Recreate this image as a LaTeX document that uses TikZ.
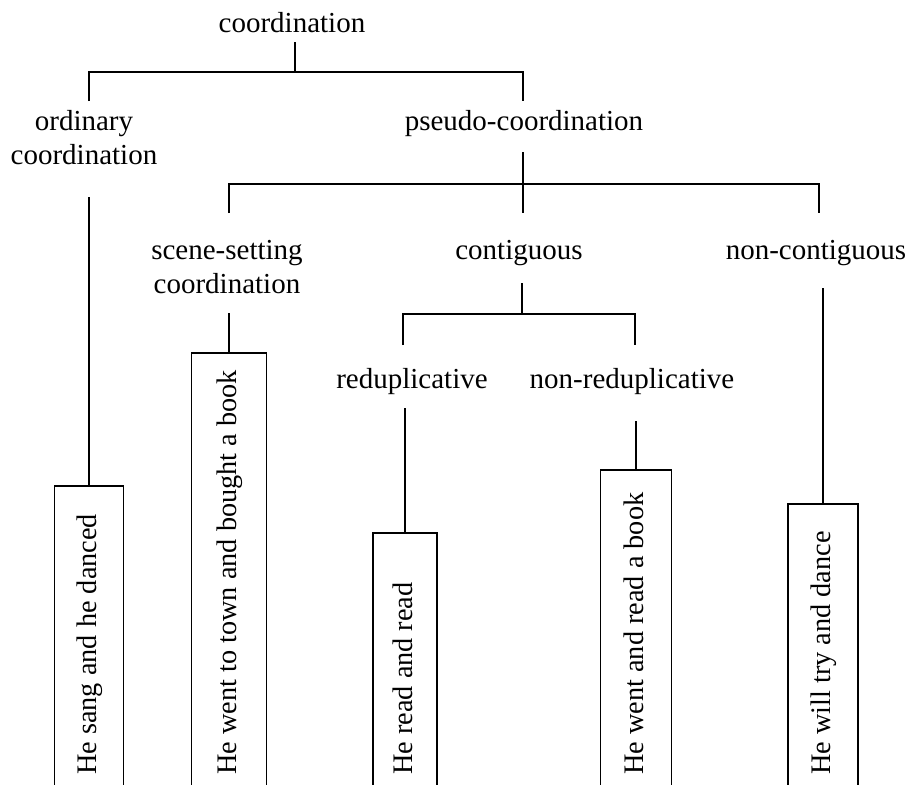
\documentclass[tikz,border=0pt]{standalone}
\usepackage{fontspec}
\setmainfont{Liberation Serif}
\begin{document}
\begin{tikzpicture}[x=1pt,y=-1pt,
  lab/.style={font=\fontsize{29}{34}\selectfont, inner sep=0pt, anchor=base, align=center},
  vtext/.style={font=\fontsize{28.3}{34}\selectfont, inner sep=0pt, rotate=90, anchor=base west},
  conn/.style={line width=1.8pt},
  sbox/.style={draw, line width=1.8pt, inner sep=0pt, anchor=north, minimum height=600pt}]
\useasboundingbox (0,0) rectangle (911,785);
% labels (multi-line labels: base = last line)
\node[lab] (root) at (292,32) {coordination};
\node[lab] (ord) at (84,164) {ordinary\\coordination};
\node[lab] (pseudo) at (524,130) {pseudo-coordination};
\node[lab] (scene) at (227,293) {scene-setting\\coordination};
\node[lab] (contig) at (519,259) {contiguous};
\node[lab] (noncontig) at (816,259) {non-contiguous};
\node[lab] (redup) at (412,388) {reduplicative};
\node[lab] (nonredup) at (632,388) {non-reduplicative};
% boxes
\node[sbox, minimum width=69pt] (b1) at (89,485) {};
\node[sbox, minimum width=75pt] (b2) at (229,352) {};
\node[sbox, minimum width=64pt] (b3) at (405,532) {};
\node[sbox, minimum width=71pt] (b4) at (636,469) {};
\node[sbox, minimum width=70pt] (b5) at (823,503) {};
\node[vtext] (t1) at (96,775) {He sang and he danced};
\node[vtext] (t2) at (236,775) {He went to town and bought a book};
\node[vtext] (t3) at (412,775) {He read and read};
\node[vtext] (t4) at (643,775) {He went and read a book};
\node[vtext] (t5) at (830,775) {He will try and dance};
% connector coordinates
\coordinate (r-s) at (295,42);
\coordinate (r-j) at (295,72);
\coordinate (ord-n) at (89,101);
\coordinate (ord-s) at (89,197);
\coordinate (ps-n) at (523,101);
\coordinate (ps-s) at (523,152);
\coordinate (ps-j) at (523,184);
\coordinate (sc-n) at (229,213);
\coordinate (co-n) at (523,213);
\coordinate (nc-n) at (819,213);
\coordinate (sc-s) at (229,313);
\coordinate (co-s) at (522,283);
\coordinate (co-j) at (522,314);
\coordinate (rd-n) at (403,345);
\coordinate (nr-n) at (635,345);
\coordinate (rd-s) at (405,408);
\coordinate (nr-s) at (636,421);
\coordinate (nc-s) at (823,288);
% connectors
\draw[conn] (r-s) -- (r-j);
\draw[conn] (ord-n) |- (ps-n |- r-j) -- (ps-n);
\draw[conn] (ord-s) -- (b1.north);
\draw[conn] (ps-s) -- (ps-j);
\draw[conn] (sc-n) |- (nc-n |- ps-j) -- (nc-n);
\draw[conn] (ps-j) -- (co-n);
\draw[conn] (sc-s) -- (b2.north);
\draw[conn] (co-s) -- (co-j);
\draw[conn] (rd-n) |- (nr-n |- co-j) -- (nr-n);
\draw[conn] (rd-s) -- (b3.north);
\draw[conn] (nr-s) -- (b4.north);
\draw[conn] (nc-s) -- (b5.north);
\end{tikzpicture}
\end{document}
